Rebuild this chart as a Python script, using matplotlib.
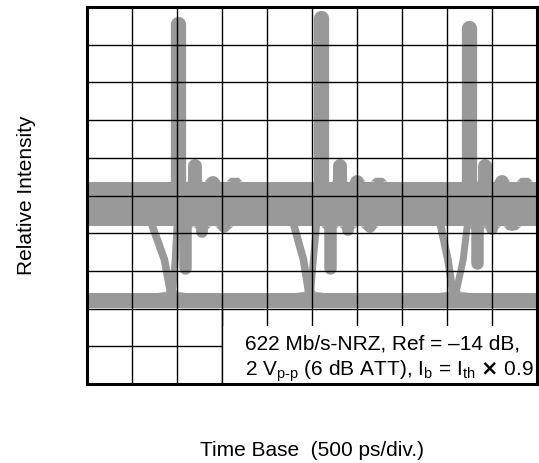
import matplotlib
matplotlib.use('Agg')
import matplotlib.pyplot as plt
from matplotlib.patches import Rectangle

plt.rcParams['font.family'] = ['Liberation Sans', 'DejaVu Sans']
plt.rcParams['mathtext.fontset'] = 'custom'
plt.rcParams['mathtext.rm'] = 'Liberation Sans'

# everything in screen divisions (10 x 10 graticule)
band_hi = (4.18, 5.37)   # "1" level band (bottom, top)
band_lo = (2.02, 2.42)   # "0" level band

# overshoot spike at each rising edge
spike_x = [2.02, 5.2, 8.48]
spike_top = [9.74, 9.9, 9.65]

# ringing above the "1" level
bump_x = [[2.4, 2.79, 3.28], [5.62, 6.01, 6.49], [8.84, 9.22, 9.73]]
bump_top = [[5.96, 5.52, 5.44], [5.97, 5.55, 5.44], [5.96, 5.55, 5.46]]

# ringing below the "1" level
dip_x = [[2.17, 2.56, 3.05], [5.4, 5.8, 6.28], [8.67, 9.0, 9.45]]
dip_bot = [[2.9, 3.88, 4.02], [2.9, 3.92, 4.02], [3.05, 3.96, 4.05]]

# falling and rising edges between the levels
fall_x = [[1.45, 1.72, 1.86], [4.6, 4.81, 4.93], [7.86, 8.02, 8.13]]
fall_y = [4.2, 3.3, 2.42]
rise_x = [[1.9, 1.96, 2.0], [4.97, 5.03, 5.1], [8.2, 8.36, 8.45]]
rise_y = [2.42, 3.3, 4.2]

note1 = '622 Mb/s-NRZ, Ref = \u201314 dB,'
note2 = (r'2 V$\mathregular{_{p\text{-}p}}$ (6 dB ATT), I$\mathregular{_b}$ = '
         r'I$\mathregular{_{th}}$ $\mathbf{\times}$ 0.9')

W, H = 539, 463
fig = plt.figure(figsize=(W / 100, H / 100), dpi=100)
ax = fig.add_axes([87 / W, 79 / H, 450 / W, 377 / H])
ax.set_xlim(0, 10)
ax.set_ylim(0, 10)
px_div = 37.7
gray = '#999999'


def cap(lw):
    # half of a line width (points) in vertical divisions
    return lw * 100 / 72 / 2 / px_div


def hump(x, y0, y1, half, lw):
    # bell shaped bump / dip from the band edge y0 to y1
    s = 1 if y1 > y0 else -1
    xs = [x - half, x - half * 0.5, x + half * 0.5, x + half]
    ys = [y0, y0 + s * 0.1, y0 + s * 0.1, y0]
    ax.fill(xs, ys, color=gray, lw=0, zorder=1)
    ax.plot([x, x], [y0 - s * 0.3, y1 - s * cap(lw)], color=gray, lw=lw,
            solid_capstyle='round', zorder=1)


ax.fill_between([0, 10], band_hi[0], band_hi[1], color=gray, lw=0, zorder=1)
ax.fill_between([0, 10], band_lo[0], band_lo[1], color=gray, lw=0, zorder=1)

for i in range(3):
    ax.plot([spike_x[i]] * 2, [band_hi[1] - 0.3, spike_top[i] - cap(11)],
            color=gray, lw=11, solid_capstyle='round', zorder=1)
    for j, (x, t) in enumerate(zip(bump_x[i], bump_top[i])):
        hump(x, band_hi[1], t, 0.18, 10 if j < 2 else 8.5)
    for j, (x, b) in enumerate(zip(dip_x[i], dip_bot[i])):
        hump(x, band_hi[0], b, 0.2, 9 if j == 0 else 8.5)
    ax.plot(fall_x[i], fall_y, color=gray, lw=5.5, zorder=1,
            solid_capstyle='round')
    ax.plot(rise_x[i], rise_y, color=gray, lw=5, zorder=1,
            solid_capstyle='round')
    # flare where the edges join the "0" level
    fb, rb, lt = fall_x[i][-1], rise_x[i][0], band_lo[1]
    ax.fill([fb - 0.3, fb - 0.1, fb - 0.02, rb + 0.02, rb + 0.1, rb + 0.3],
            [lt, lt + 0.03, lt + 0.2, lt + 0.2, lt + 0.03, lt],
            color=gray, lw=0, zorder=1)

# graticule
for k in range(1, 10):
    ax.axvline(k, color='k', lw=1.0, zorder=3)
    ax.axhline(k, color='k', lw=1.0, zorder=3)

# white box for the note
ax.add_patch(Rectangle((3, 0), 7, 1.54, facecolor='white', edgecolor='none', zorder=4))
ax.plot([3, 3], [0, 2], color='k', lw=1.0, zorder=5)
ax.text(3.51, 0.92, note1, fontsize=15, va='baseline', zorder=6)
ax.text(3.51, 0.21, note2, fontsize=15, va='baseline', zorder=6)

ax.set_xticks([])
ax.set_yticks([])
for s in ax.spines.values():
    s.set_linewidth(2.2)
    s.set_zorder(7)

fig.text(312 / W, 1 - 455.6 / H, 'Time Base  (500 ps/div.)', fontsize=15,
         ha='center', va='baseline')
fig.text(32 / W, 1 - 195.5 / H, 'Relative Intensity', fontsize=15, rotation=90,
         rotation_mode='anchor', ha='center', va='baseline')

fig.savefig('out.png', dpi=100)
